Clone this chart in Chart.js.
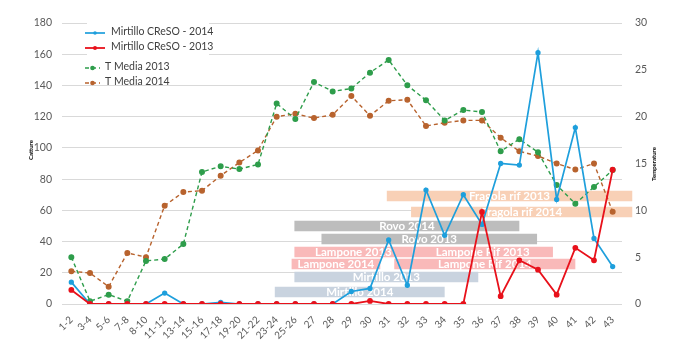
<!DOCTYPE html>
<html>
<head>
<meta charset="utf-8">
<script src="https://cdn.jsdelivr.net/npm/chart.js@4.4.1/dist/chart.umd.min.js"></script>
<style>
    html, body { margin: 0; padding: 0; background: #fff; }
</style>
</head>
<body>
<canvas id="chart" width="688" height="347"></canvas>
<script>
// weeks on the x axis
const weeks = ['1-2', '3-4', '5-6', '7-8', '8-10', '11-12', '13-14', '15-16', '17-18', '19-20',
    '21-22', '23-24', '25-26', '27', '28', '29', '30', '31', '32', '33',
    '34', '35', '36', '37', '38', '39', '40', '41', '42', '43'];

// catture (left axis)
const mirtillo2014 = [14, 0, 0, 0, 0, 7, 0, 0, 1, 0, 0, 0, 0, 0, 0,
    8, 10, 41, 12, 73, 44, 70, 51, 90, 89, 161, 67, 113, 42, 24];
const mirtillo2013 = [9, 0, 0, 0, 0, 0, 0, 0, 0, 0, 0, 0, 0, 0, 0,
    0, 2, 0, 0, 0, 0, 0, 59, 5, 28, 22, 6, 36, 28, 86];

// temperature (right axis)
const tMedia2013 = [5.0, 0.3, 1.0, 0.3, 4.6, 4.8, 6.4, 14.1, 14.7, 14.4, 14.9, 21.4, 19.75, 23.7, 22.7,
    23.0, 24.7, 26.05, 23.35, 21.75, 19.6, 20.7, 20.5, 16.3, 17.6, 16.2, 12.7, 10.7, 12.5, 14.3];
const tMedia2014 = [3.5, 3.3, 1.85, 5.45, 5.0, 10.5, 11.95, 12.1, 13.7, 15.1, 16.4, 20.0, 20.3, 19.85, 20.2,
    22.2, 20.1, 21.7, 21.8, 19.0, 19.35, 19.6, 19.6, 17.75, 16.3, 15.8, 15.0, 14.35, 15.0, 9.85];

// crop periods (week index units, left-axis level)
const phaseNames = ['Fragola rif 2013', 'Fragola rif 2014', 'Rovo 2014', 'Rovo 2013', 'Lampone 2013',
    'Lampone Rif 2013', 'Lampone 2014', 'Lampone Rif 2014', 'Mirtillo 2013', 'Mirtillo 2014'];
const phaseStart = [16.9, 18.2, 11.95, 13.4, 11.95, 18.27, 11.8, 17.3, 11.95, 10.9];
const phaseEnd = [30.05, 30.05, 24.0, 24.95, 18.27, 25.8, 16.55, 27.0, 21.8, 20.0];
const phaseLevel = [69.2, 58.9, 50.0, 41.6, 33.3, 33.3, 25.6, 25.6, 17.3, 7.7];
const phaseColors = ['#f8d0b6', '#f8d0b6', '#bdbdbd', '#bdbdbd', '#f9b9b9',
    '#f9b9b9', '#f9b9b9', '#f9b9b9', '#c9d3df', '#c9d3df'];

const FONT = 'Lato, "Open Sans", sans-serif';
const TICK_COLOR = '#595959';

const overlay = {
    id: 'overlay',
    beforeDatasetsDraw(chart) {
        const ctx = chart.ctx;
        ctx.save();
        // legend box
        ctx.fillStyle = '#fff';
        ctx.fillRect(87, 19, 122, 38);
        const items = [
            {ds: 0, y: 33, x0: 85, x1: 105, tx: 111},
            {ds: 1, y: 48, x0: 85, x1: 105, tx: 111},
            {ds: 2, y: 68, x0: 85, x1: 100, tx: 105},
            {ds: 3, y: 83, x0: 85, x1: 100, tx: 105}
        ];
        items.forEach(it => {
            const d = chart.data.datasets[it.ds];
            ctx.strokeStyle = d.borderColor;
            ctx.lineWidth = d.borderWidth;
            ctx.setLineDash(d.borderDash || []);
            ctx.beginPath();
            ctx.moveTo(it.x0, it.y);
            ctx.lineTo(it.x1, it.y);
            ctx.stroke();
            ctx.setLineDash([]);
            ctx.fillStyle = d.borderColor;
            ctx.beginPath();
            ctx.arc((it.x0 + it.x1) / 2, it.y, d.pointRadius, 0, Math.PI * 2);
            ctx.fill();
            ctx.fillStyle = '#404040';
            ctx.font = '10.5px ' + FONT;
            ctx.textAlign = 'left';
            ctx.textBaseline = 'middle';
            ctx.fillText(d.label, it.tx, it.y - 1);
        });
        // axis titles
        ctx.fillStyle = '#000';
        ctx.font = 'bold 6px ' + FONT;
        ctx.textAlign = 'center';
        ctx.translate(31, 150);
        ctx.rotate(-Math.PI / 2);
        ctx.fillText('Catture', 0, 0);
        ctx.rotate(Math.PI / 2);
        ctx.translate(-31, -150);
        ctx.translate(654, 164);
        ctx.rotate(-Math.PI / 2);
        ctx.fillText('Temperature', 0, 0);
        ctx.restore();
    },
    afterDatasetDraw(chart, args) {
        const d = chart.data.datasets[args.index];
        if (d.phase === undefined) {
            return;
        }
        const i = d.phase;
        const xs = chart.scales.x2;
        const ys = chart.scales.y;
        const cx = (xs.getPixelForValue(phaseStart[i]) + xs.getPixelForValue(phaseEnd[i])) / 2;
        const cy = ys.getPixelForValue(phaseLevel[i]);
        const ctx = chart.ctx;
        ctx.save();
        ctx.fillStyle = '#fff';
        ctx.font = 'bold 11.5px ' + FONT;
        ctx.textAlign = 'center';
        ctx.textBaseline = 'middle';
        ctx.fillText(phaseNames[i], cx, cy);
        ctx.restore();
    }
};

const phaseDatasets = phaseNames.map((name, i) => ({
        label: name,
        phase: i,
        type: 'line',
        data: [{x: phaseStart[i], y: phaseLevel[i]}, {x: phaseEnd[i], y: phaseLevel[i]}],
        xAxisID: 'x2',
        yAxisID: 'y',
        borderColor: phaseColors[i],
        borderWidth: 10.5,
        borderCapStyle: 'butt',
        pointRadius: 0,
        clip: false,
        order: 10
    }));

new Chart(document.getElementById('chart').getContext('2d'), {
    type: 'line',
    data: {
        labels: weeks,
        datasets: [{
                label: 'Mirtillo CReSO - 2014',
                data: mirtillo2014,
                borderColor: '#1e9fdc',
                backgroundColor: '#1e9fdc',
                borderWidth: 1.7,
                pointRadius: 1.8,
                yAxisID: 'y',
                order: 1
            }, {
                label: 'Mirtillo CReSO - 2013',
                data: mirtillo2013,
                borderColor: '#e8111b',
                backgroundColor: '#e8111b',
                borderWidth: 1.8,
                pointRadius: 2,
                yAxisID: 'y',
                order: 0
            }, {
                label: 'T Media 2013',
                data: tMedia2013,
                borderColor: '#2e9d4b',
                backgroundColor: '#2e9d4b',
                borderWidth: 1.4,
                borderDash: [4, 3],
                pointRadius: 2.3,
                yAxisID: 'y1',
                order: 2
            }, {
                label: 'T Media 2014',
                data: tMedia2014,
                borderColor: '#b8632e',
                backgroundColor: '#b8632e',
                borderWidth: 1.4,
                borderDash: [4, 3],
                pointRadius: 2.3,
                yAxisID: 'y1',
                order: 3
            }, ...phaseDatasets]
    },
    options: {
        responsive: false,
        animation: false,
        layout: {padding: {top: 23, left: 0, right: 0, bottom: 0}},
        plugins: {
            legend: {display: false},
            tooltip: {enabled: false}
        },
        elements: {line: {tension: 0}},
        scales: {
            x: {
                type: 'category',
                offset: true,
                grid: {display: false},
                border: {display: false},
                ticks: {
                    autoSkip: false,
                    minRotation: 45,
                    maxRotation: 45,
                    padding: 2,
                    color: TICK_COLOR,
                    font: {family: FONT, size: 10}
                },
                afterFit(s) { s.height = 43; }
            },
            x2: {type: 'linear', display: false, min: -0.5, max: 29.5},
            y: {
                position: 'left',
                min: 0,
                max: 180,
                ticks: {stepSize: 20, padding: 10, color: TICK_COLOR, font: {family: FONT, size: 10.5}},
                grid: {color: '#d9d9d9', drawTicks: false},
                border: {display: false},
                afterFit(s) { s.width = 62; }
            },
            y1: {
                position: 'right',
                min: 0,
                max: 30,
                ticks: {stepSize: 5, padding: 13, color: TICK_COLOR, font: {family: FONT, size: 10.5}},
                grid: {drawOnChartArea: false, drawTicks: false},
                border: {display: false},
                afterFit(s) { s.width = 66; }
            }
        }
    },
    plugins: [overlay]
});
</script>
</body>
</html>
